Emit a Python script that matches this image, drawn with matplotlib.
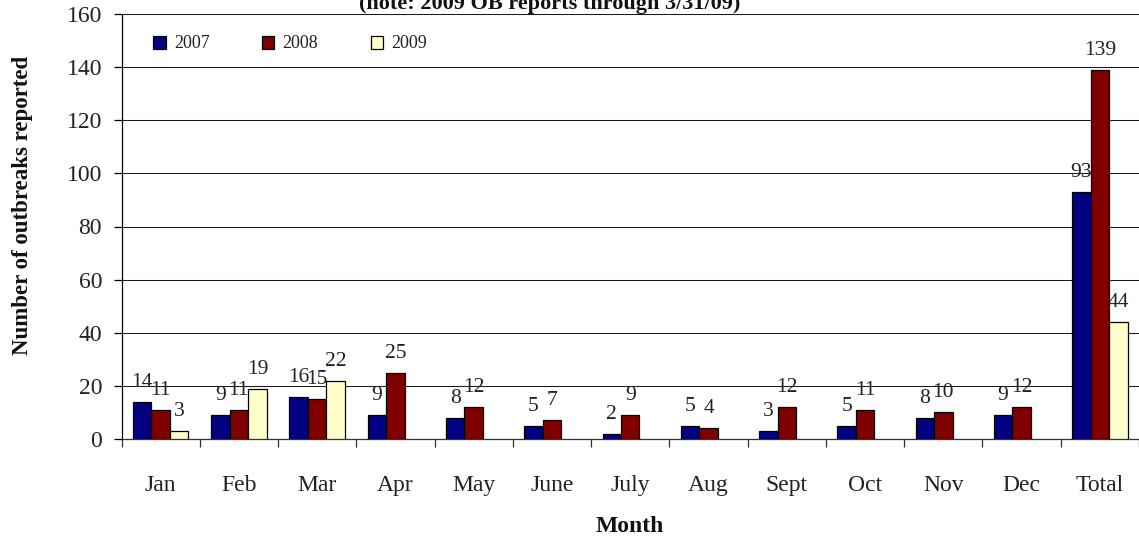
import numpy as np
import matplotlib
matplotlib.use("Agg")
import matplotlib.pyplot as plt
from matplotlib.ticker import FixedLocator

months = ["Jan", "Feb", "Mar", "Apr", "May", "June", "July", "Aug", "Sept", "Oct", "Nov", "Dec", "Total"]
years = ["2007", "2008", "2009"]
v2007 = [14, 9, 16, 9, 8, 5, 2, 5, 3, 5, 8, 9, 93]
v2008 = [11, 11, 15, 25, 12, 7, 9, 4, 12, 11, 10, 12, 139]
v2009 = [3, 19, 22, None, None, None, None, None, None, None, None, None, 44]
colors = ["#000080", "#800000", "#FFFFCC"]
yticks = [0, 20, 40, 60, 80, 100, 120, 140, 160]

plt.rcParams['font.family'] = ['Liberation Serif', 'DejaVu Serif']

W, H = 1139, 538
fig = plt.figure(figsize=(W / 100, H / 100), dpi=100)
ax = fig.add_axes([121.5 / W, (H - 439) / H, 1 - 121.5 / W, (439 - 14) / H])

x = np.arange(len(months))
bw = 0.236
series = [v2007, v2008, v2009]
for i, (vals, col, yr) in enumerate(zip(series, colors, years)):
    xs = [xx + (i - 1) * bw for xx, v in zip(x, vals) if v is not None]
    vs = [v for v in vals if v is not None]
    bars = ax.bar(xs, vs, width=bw, color=col, edgecolor="black", linewidth=0.9, label=yr, zorder=3)
    for b, v in zip(bars, vs):
        ax.annotate(str(v), (b.get_x() + b.get_width() / 2, b.get_height()),
                    xytext=(0, 15), textcoords="offset pixels", ha="center", va="baseline",
                    fontsize=15.5, color="#222222", zorder=4)

ax.set_xlim(-0.5, len(months) - 0.5)
ax.set_ylim(0, 160)
ax.set_yticks(yticks)
ax.yaxis.grid(True, color="#1a1a1a", linewidth=0.75, zorder=0)
ax.set_axisbelow(True)

ax.set_xticks(x)
ax.set_xticklabels(months, fontsize=17, color="#222222")
ax.xaxis.set_minor_locator(FixedLocator(np.arange(-0.5, len(months), 1.0)))
ax.tick_params(axis="x", which="major", length=0, pad=26)
ax.tick_params(axis="x", which="minor", length=6, width=0.9, color="#333333", direction="out")
ax.tick_params(axis="y", length=6, width=0.9, pad=8, labelsize=17, labelcolor="#222222", direction="out")

for s in ["top", "right"]:
    ax.spines[s].set_visible(False)
ax.spines["left"].set_linewidth(0.9)
ax.spines["bottom"].set_linewidth(0.9)
ax.spines["bottom"].set_color("#333333")

fig.text(630 / W, 1 - 532 / H, "Month", ha="center", va="baseline", fontsize=17, fontweight="bold", color="#111111")
fig.text(23 / W, 1 - 205 / H, "Number of outbreaks reported", ha="center", va="center",
         rotation=90, fontsize=16.5, fontweight="bold", color="#111111")
fig.text(550 / W, 1 - 9 / H, "(note: 2009 OB reports through 3/31/09)", ha="center", va="baseline",
         fontsize=16, fontweight="bold", color="#111111")

leg = fig.legend(loc="center left", bbox_to_anchor=(153 / W, 1 - 44 / H), ncol=3, frameon=False,
                 fontsize=13, handlelength=0.7, handleheight=0.7, handletextpad=0.45,
                 columnspacing=2.9, borderpad=0, borderaxespad=0)
for t in leg.get_texts():
    t.set_color("#222222")

fig.savefig("out.png", dpi=100)
